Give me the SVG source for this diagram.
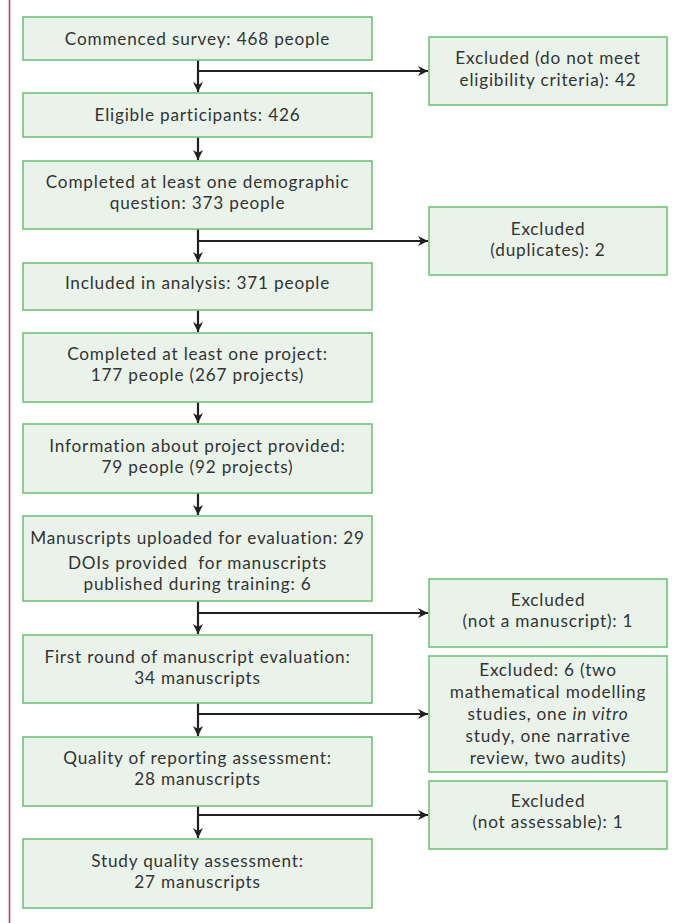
<svg xmlns="http://www.w3.org/2000/svg" width="688" height="923" viewBox="0 0 688 923">
<style>
.box{fill:#e9f3ea;stroke:#72c27a;stroke-width:1.6}
.t{font-family:Lato,"Open Sans","Liberation Sans",sans-serif;font-size:17.2px;letter-spacing:0.8px;fill:#333333;text-anchor:middle}
.c{stroke:#231f20;stroke-width:2.2;fill:none}
</style>
<defs>
<marker id="ah" viewBox="0 0 10 10" refX="10" refY="5" markerWidth="11" markerHeight="10" orient="auto" markerUnits="userSpaceOnUse">
<path d="M0,0 L10,5 L0,10 L3,5 z" fill="#231f20"/>
</marker>
</defs>
<rect width="688" height="923" fill="#ffffff"/>
<line x1="9.5" y1="0" x2="9.5" y2="923" stroke="#cc3d5f" stroke-width="1.6"/>

<g id="connectors">
<line class="c" x1="198" y1="60" x2="198" y2="92" marker-end="url(#ah)"/>
<line class="c" x1="198" y1="71" x2="428" y2="71" marker-end="url(#ah)"/>
<line class="c" x1="198" y1="137" x2="198" y2="160" marker-end="url(#ah)"/>
<line class="c" x1="198" y1="229" x2="198" y2="262" marker-end="url(#ah)"/>
<line class="c" x1="198" y1="241" x2="428" y2="241" marker-end="url(#ah)"/>
<line class="c" x1="198" y1="310" x2="198" y2="332" marker-end="url(#ah)"/>
<line class="c" x1="198" y1="402" x2="198" y2="423" marker-end="url(#ah)"/>
<line class="c" x1="198" y1="493" x2="198" y2="515" marker-end="url(#ah)"/>
<line class="c" x1="198" y1="601" x2="198" y2="634" marker-end="url(#ah)"/>
<line class="c" x1="198" y1="613" x2="428" y2="613" marker-end="url(#ah)"/>
<line class="c" x1="198" y1="703" x2="198" y2="736" marker-end="url(#ah)"/>
<line class="c" x1="198" y1="714" x2="428" y2="714" marker-end="url(#ah)"/>
<line class="c" x1="198" y1="806" x2="198" y2="838" marker-end="url(#ah)"/>
<line class="c" x1="198" y1="815" x2="428" y2="815" marker-end="url(#ah)"/>
</g>

<g id="n1"><rect class="box" x="23" y="17" width="349" height="43"/>
<text class="t" x="197.5" y="45">Commenced survey: 468 people</text></g>

<g id="x1"><rect class="box" x="429" y="37" width="238" height="68"/>
<text class="t" x="548" y="64">Excluded (do not meet</text>
<text class="t" x="548" y="86">eligibility criteria): 42</text></g>

<g id="n2"><rect class="box" x="23" y="93" width="349" height="44"/>
<text class="t" x="197.5" y="121">Eligible participants: 426</text></g>

<g id="n3"><rect class="box" x="23" y="161" width="349" height="68"/>
<text class="t" x="197.5" y="188">Completed at least one demographic</text>
<text class="t" x="197.5" y="209">question: 373 people</text></g>

<g id="x2"><rect class="box" x="429" y="207" width="238" height="68"/>
<text class="t" x="548" y="235">Excluded</text>
<text class="t" x="548" y="256">(duplicates): 2</text></g>

<g id="n4"><rect class="box" x="23" y="263" width="349" height="47"/>
<text class="t" x="197.5" y="289">Included in analysis: 371 people</text></g>

<g id="n5"><rect class="box" x="23" y="333" width="349" height="69"/>
<text class="t" x="197.5" y="360">Completed at least one project:</text>
<text class="t" x="197.5" y="381">177 people (267 projects)</text></g>

<g id="n6"><rect class="box" x="23" y="424" width="349" height="69"/>
<text class="t" x="197.5" y="452">Information about project provided:</text>
<text class="t" x="197.5" y="473">79 people (92 projects)</text></g>

<g id="n7"><rect class="box" x="23" y="516" width="349" height="85"/>
<text class="t" x="197.5" y="544">Manuscripts uploaded for evaluation: 29</text>
<text class="t" x="197.5" y="569" xml:space="preserve">DOIs provided  for manuscripts</text>
<text class="t" x="197.5" y="590">published during training: 6</text></g>

<g id="x3"><rect class="box" x="429" y="579" width="238" height="68"/>
<text class="t" x="548" y="606">Excluded</text>
<text class="t" x="548" y="627">(not a manuscript): 1</text></g>

<g id="n8"><rect class="box" x="23" y="635" width="349" height="68"/>
<text class="t" x="197.5" y="663">First round of manuscript evaluation:</text>
<text class="t" x="197.5" y="684">34 manuscripts</text></g>

<g id="x4"><rect class="box" x="429" y="656" width="238" height="116"/>
<text class="t" x="548" y="676">Excluded: 6 (two</text>
<text class="t" x="548" y="698">mathematical modelling</text>
<text class="t" x="548" y="720">studies, one <tspan font-style="italic">in vitro</tspan></text>
<text class="t" x="548" y="742">study, one narrative</text>
<text class="t" x="548" y="764">review, two audits)</text></g>

<g id="n9"><rect class="box" x="23" y="737" width="349" height="69"/>
<text class="t" x="197.5" y="764">Quality of reporting assessment:</text>
<text class="t" x="197.5" y="785">28 manuscripts</text></g>

<g id="x5"><rect class="box" x="429" y="781" width="238" height="68"/>
<text class="t" x="548" y="807">Excluded</text>
<text class="t" x="548" y="828">(not assessable): 1</text></g>

<g id="n10"><rect class="box" x="23" y="839" width="349" height="69"/>
<text class="t" x="197.5" y="867">Study quality assessment:</text>
<text class="t" x="197.5" y="888">27 manuscripts</text></g>
</svg>
